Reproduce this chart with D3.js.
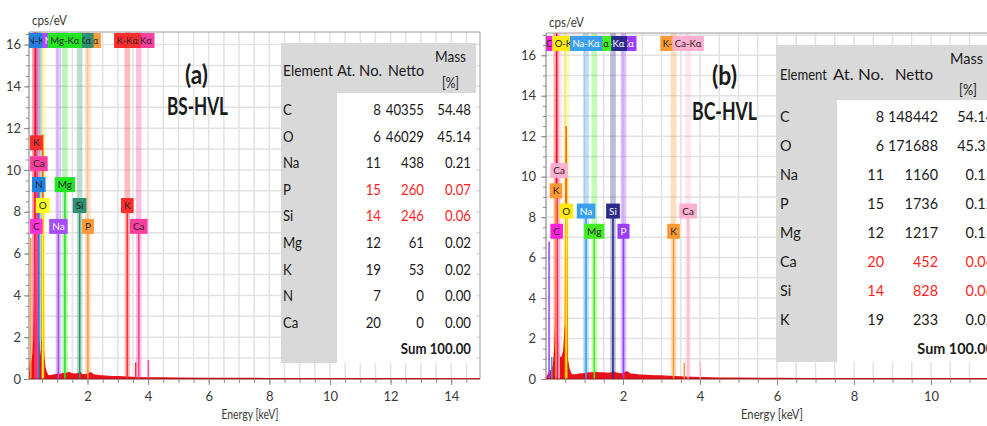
<!DOCTYPE html>
<html>
<head>
<meta charset="utf-8">
<script src="https://cdn.jsdelivr.net/npm/d3@7"></script>
<style>
  body { margin: 0; background: #fff; }
  svg { display: block; }
  text { font-family: Lato, "Open Sans", "Liberation Sans", sans-serif; }
</style>
</head>
<body>
<svg id="chart" width="987" height="426"></svg>
<script>
// ---------------- data ----------------
const yTickLabels  = [0, 2, 4, 6, 8, 10, 12, 14, 16];
const xTickLabelsA = [2, 4, 6, 8, 10, 12, 14];
const xTickLabelsB = [2, 4, 6, 8, 10];

// spectrum (a) BS-HVL : [energy keV, cps/eV]
const spectrumA = [[0.07,0],[0.10,0.4],[0.12,1.0],[0.14,0.5],[0.17,0.8],[0.20,1.2],[0.23,2.0],[0.25,4.0],[0.265,8.0],
  [0.277,17.5],[0.29,6.0],[0.31,2.2],[0.34,1.8],[0.37,1.6],[0.39,1.9],[0.41,1.4],[0.44,1.0],[0.47,1.1],[0.50,1.8],
  [0.53,2.0],[0.56,1.0],[0.60,0.5],[0.65,0.3],[0.70,0.18],[0.80,0.16],[0.90,0.2],[1.00,0.22],[1.10,0.22],[1.20,0.26],
  [1.30,0.28],[1.40,0.3],[1.50,0.25],[1.60,0.24],[1.70,0.26],[1.76,0.32],[1.80,0.22],[1.90,0.2],[2.00,0.24],[2.10,0.3],
  [2.20,0.2],[2.40,0.16],[2.60,0.14],[2.80,0.12],[3.00,0.11],[3.30,0.09],[3.60,0.07],[4.00,0.06],[4.50,0.05],[5.00,0.04],
  [6.00,0.035],[7.00,0.03],[8.00,0.025],[9.00,0.02],[10.0,0.02],[11.0,0.018],[12.0,0.016],[13.0,0.014],[14.0,0.012],[14.95,0.01]];
// oxygen K-alpha peak (a)
const oxygenPeakA = [[0.50,0.4],[0.525,11.7],[0.55,0.4]];

// spectrum (b) BC-HVL
const spectrumB = [[0,0],[0.05,0.2],[0.08,0.3],[0.12,0.4],[0.17,0.5],[0.20,0.8],[0.23,1.5],[0.25,3.0],[0.265,6.3],
  [0.277,18.5],[0.29,6.0],[0.31,2.0],[0.34,1.2],[0.38,1.0],[0.42,1.1],[0.46,1.4],[0.50,2.6],[0.53,2.0],[0.56,0.9],
  [0.60,0.5],[0.65,0.25],[0.70,0.2],[0.80,0.22],[0.90,0.25],[1.00,0.27],[1.10,0.3],[1.20,0.3],[1.30,0.32],[1.40,0.3],
  [1.50,0.3],[1.60,0.28],[1.70,0.3],[1.76,0.36],[1.80,0.3],[1.90,0.27],[2.00,0.26],[2.10,0.36],[2.20,0.24],[2.40,0.2],
  [2.60,0.18],[2.80,0.16],[3.00,0.15],[3.30,0.12],[3.60,0.1],[4.00,0.07],[4.50,0.05],[5.00,0.04],[6.00,0.03],[7.00,0.025],
  [8.00,0.02],[9.00,0.02],[10.0,0.018],[11.0,0.016],[12.0,0.014]];
const oxygenPeakB = [[0.50,0.4],[0.525,12.5],[0.55,0.4]];

// element K-alpha lines (drawing order) and L lines
const kLinesAElement = ["C", "O", "N", "Na", "P", "Si", "Mg", "Ca", "K"];
const kLinesAEnergy  = [0.277, 0.525, 0.392, 1.041, 2.013, 1.740, 1.254, 3.691, 3.313];
const lLinesAElement = ["K", "Ca"];
const lLinesAEnergy  = [0.26, 0.34];
const minorLinesAElement = ["P", "K", "Ca"];
const minorLinesAEnergy  = [0.13, 3.59, 4.01];
const minorLinesAHeight  = [6.75, 0.8, 0.9];

const kLinesBElement = ["C", "O", "P", "Si", "Mg", "Na", "K", "Ca"];
const kLinesBEnergy  = [0.277, 0.525, 2.013, 1.740, 1.254, 1.041, 3.313, 3.691];
const lLinesBElement = ["K", "Ca"];
const lLinesBEnergy  = [0.26, 0.34];
const minorLinesBElement = ["P", "Na", "K", "Ca"];
const minorLinesBEnergy  = [0.08, 0.15, 3.59, 4.01];
const minorLinesBHeight  = [6.8, 1.1, 0.8, 0.85];

// quantification tables
const tableAElement = ["C", "O", "Na", "P", "Si", "Mg", "K", "N", "Ca"];
const tableAAtNo    = [8, 6, 11, 15, 14, 12, 19, 7, 20];
const tableANetto   = [40355, 46029, 438, 260, 246, 61, 53, 0, 0];
const tableAMass    = [54.48, 45.14, 0.21, 0.07, 0.06, 0.02, 0.02, 0.00, 0.00];
const tableAFlagged = ["P", "Si"];
const tableASum     = 100.00;

const tableBElement = ["C", "O", "Na", "P", "Mg", "Ca", "Si", "K"];
const tableBAtNo    = [8, 6, 11, 15, 12, 20, 14, 19];
const tableBNetto   = [148442, 171688, 1160, 1736, 1217, 452, 828, 233];
const tableBMass    = [54.14, 45.35, 0.15, 0.12, 0.11, 0.06, 0.06, 0.02];
const tableBFlagged = ["Ca", "Si"];
const tableBSum     = 100.00;

// ---------------- styles / layout ----------------
const colorsA = { C: "#ff33d6", N: "#1f80e0", O: "#ffff26", Na: "#a64dff", Mg: "#22e622",
                  Si: "#2e9172", P: "#ff9a3c", K: "#ff2e2e", Ca: "#ff3fa0" };
const colorsB = { C: "#ff22dd", O: "#ffea10", Na: "#3a9ff0", Mg: "#44ee22",
                  Si: "#2b2b8c", P: "#9b3cff", K: "#ff9933", Ca: "#ffb0d0" };
const lightTextA = ["Na"];
const lightTextB = ["Si", "P", "Na"];
const tiersA  = { C: 0, N: 2, O: 1, Na: 0, Mg: 2, Si: 1, P: 0, K: 1, Ca: 0 };
const lTiersA = { K: 4, Ca: 3 };
const tiersB  = { C: 0, O: 1, Na: 1, Mg: 0, Si: 1, P: 0, K: 0, Ca: 1 };
const lTiersB = { K: 2, Ca: 3 };

const svg = d3.select("#chart");
const defs = svg.append("defs");

function addText(g, x, y, s, o) {
  const t = g.append("text")
    .attr("font-size", o.size)
    .attr("text-anchor", o.anchor || "start")
    .attr("fill", o.color || "#1a1a1a")
    .attr("font-weight", o.weight || 400)
    .text(s);
  if (o.len) {
    t.attr("x", x).attr("y", y).attr("textLength", o.len).attr("lengthAdjust", "spacingAndGlyphs");
  } else if (o.sx) {
    t.attr("transform", `translate(${x},${y}) scale(${o.sx},1)`);
  } else {
    t.attr("x", x).attr("y", y);
  }
  return t;
}

function drawPanel(cfg) {
  const g = svg.append("g");
  const x = d3.scaleLinear().domain(cfg.xDomain).range([cfg.left, cfg.right]);
  const y = d3.scaleLinear().domain([0, cfg.yMax]).range([cfg.bottom, cfg.top]);
  const clipId = "clip-" + cfg.id;
  defs.append("clipPath").attr("id", clipId).append("rect")
    .attr("x", cfg.left).attr("y", cfg.top)
    .attr("width", cfg.right - cfg.left).attr("height", cfg.bottom - cfg.top);

  const plot = g.append("g").attr("clip-path", `url(#${clipId})`);
  plot.append("rect").attr("x", cfg.left).attr("y", cfg.top)
    .attr("width", cfg.right - cfg.left).attr("height", cfg.bottom - cfg.top).attr("fill", "#fff");

  // grid
  plot.append("g").selectAll("line").data(d3.range(0.5, cfg.xDomain[1], 0.5)).join("line")
    .attr("x1", d => x(d)).attr("x2", d => x(d)).attr("y1", cfg.top).attr("y2", cfg.bottom)
    .attr("stroke", "#e2e2e2").attr("stroke-width", 1.5);
  plot.append("g").selectAll("line").data(d3.range(1, cfg.yMax, 1)).join("line")
    .attr("x1", cfg.left).attr("x2", cfg.right).attr("y1", d => y(d)).attr("y2", d => y(d))
    .attr("stroke", "#e2e2e2").attr("stroke-width", 1.5);

  const kLines = cfg.kElement.map((el, i) => ({ el, e: cfg.kEnergy[i], tier: cfg.tiers[el] }));
  const lLines = cfg.lElement.map((el, i) => ({ el, e: cfg.lEnergy[i], tier: cfg.lTiers[el] }));
  const allLines = kLines.concat(lLines);

  // translucent marker bands
  plot.append("g").selectAll("rect").data(allLines).join("rect")
    .attr("x", d => x(d.e) - 2.8).attr("width", 5.6)
    .attr("y", cfg.top).attr("height", cfg.bottom - cfg.top)
    .attr("fill", d => cfg.colors[d.el]).attr("opacity", 0.32);

  // spectrum
  const area = d3.area().x(d => x(d[0])).y0(y(0)).y1(d => y(d[1]));
  plot.append("path").datum(cfg.spectrum).attr("d", area)
    .attr("fill", "#e8101a").attr("stroke", "#e8101a").attr("stroke-width", 1.2);
  plot.append("path").datum(cfg.oxygenPeak).attr("d", area)
    .attr("fill", "#ff6a00").attr("stroke", "#ff6a00").attr("stroke-width", 1.6);

  // solid marker lines below each label
  const tierCenter = t => y(7.3 + t);
  plot.append("g").selectAll("line").data(allLines).join("line")
    .attr("x1", d => x(d.e)).attr("x2", d => x(d.e))
    .attr("y1", d => tierCenter(d.tier) + 7).attr("y2", y(0))
    .attr("stroke", d => cfg.colors[d.el]).attr("stroke-width", 1.6);
  const minor = cfg.minorElement.map((el, i) => ({ el, e: cfg.minorEnergy[i], h: cfg.minorHeight[i] }));
  plot.append("g").selectAll("line").data(minor).join("line")
    .attr("x1", d => x(d.e)).attr("x2", d => x(d.e))
    .attr("y1", d => y(d.h)).attr("y2", y(0))
    .attr("stroke", d => cfg.colors[d.el]).attr("stroke-width", 1.5);

  // top row of line labels
  kLines.forEach(d => {
    const lg = plot.append("g");
    const rect = lg.append("rect");
    const t = addText(lg, x(d.e), cfg.top + cfg.labelOffset + 11, d.el + "-K\u03b1",
      { size: 9.5, anchor: "middle", color: cfg.lightText.includes(d.el) ? "#fff" : "#222" });
    const w = t.node().getComputedTextLength() + 5;
    rect.attr("x", x(d.e) - w / 2).attr("y", cfg.top + cfg.labelOffset).attr("width", w).attr("height", 15)
      .attr("fill", cfg.colors[d.el]);
  });

  // element symbol labels at staggered heights
  allLines.forEach(d => {
    const lg = g.append("g");
    const rect = lg.append("rect");
    const t = lg.append("text").attr("font-size", 10).attr("text-anchor", "middle")
      .attr("fill", cfg.lightText.includes(d.el) ? "#fff" : "#222").text(d.el);
    const w = Math.max(11, t.node().getComputedTextLength() + 6);
    const cx = Math.max(cfg.left + 1 + w / 2, x(d.e));
    const cy = tierCenter(d.tier);
    t.attr("x", cx).attr("y", cy + 3.5);
    rect.attr("x", cx - w / 2).attr("y", cy - 7.5).attr("width", w).attr("height", 15)
      .attr("fill", cfg.colors[d.el]);
  });

  // frame and axes
  g.append("line").attr("x1", cfg.left).attr("x2", cfg.right).attr("y1", cfg.top).attr("y2", cfg.top)
    .attr("stroke", "#9a9a9a");
  g.append("line").attr("x1", cfg.right).attr("x2", cfg.right).attr("y1", cfg.top).attr("y2", cfg.bottom)
    .attr("stroke", "#9a9a9a");
  g.append("line").attr("x1", cfg.left).attr("x2", cfg.right).attr("y1", cfg.bottom).attr("y2", cfg.bottom)
    .attr("stroke", "#8a1a1a").attr("stroke-width", 1.2);
  g.append("line").attr("x1", cfg.left).attr("x2", cfg.left).attr("y1", cfg.top).attr("y2", cfg.bottom)
    .attr("stroke", "#777");

  const yMinor = g.append("g").attr("transform", `translate(${cfg.left},0)`)
    .call(d3.axisLeft(y).tickValues(d3.range(0, cfg.yMax, 0.5)).tickSize(3).tickFormat(""));
  const yMajor = g.append("g").attr("transform", `translate(${cfg.left},0)`)
    .call(d3.axisLeft(y).tickValues(yTickLabels).tickSize(5).tickPadding(cfg.yPad));
  const xMinor = g.append("g").attr("transform", `translate(0,${cfg.bottom})`)
    .call(d3.axisBottom(x).tickValues(d3.range(0.5, cfg.xDomain[1], 0.5)).tickSize(4).tickFormat(""));
  const xMajor = g.append("g").attr("transform", `translate(0,${cfg.bottom})`)
    .call(d3.axisBottom(x).tickValues(cfg.xTicks).tickSize(6).tickPadding(7));
  [yMinor, yMajor, xMinor, xMajor].forEach(a => {
    a.select(".domain").remove();
    a.selectAll(".tick line").attr("stroke", "#8c8c8c");
    a.selectAll(".tick text").attr("font-size", 13).attr("fill", "#3a3a3a")
      .attr("font-family", "Lato, 'Open Sans', sans-serif");
  });

  addText(g, cfg.left + 3, cfg.cpsY, "cps/eV", { size: 12.5, color: "#3a3a3a", len: 35 });
  addText(g, cfg.energyX - cfg.energyLen / 2, 419, "Energy [keV]",
    { size: 12.5, color: "#3a3a3a", len: cfg.energyLen });

  return g;
}

function drawTable(t) {
  const g = svg.append("g");
  g.append("rect").attr("x", t.x0).attr("y", t.y0).attr("width", t.x1 - t.x0)
    .attr("height", t.bottom - t.y0).attr("fill", "#fff");
  g.append("rect").attr("x", t.x0).attr("y", t.y0).attr("width", t.x1 - t.x0)
    .attr("height", t.headBottom - t.y0).attr("fill", "#d9d9d9");
  g.append("rect").attr("x", t.x0).attr("y", t.headBottom).attr("width", t.col1Right - t.x0)
    .attr("height", t.bottom - t.headBottom).attr("fill", "#d9d9d9");

  const h = t.header;
  addText(g, h.element[0], h.rowY, "Element", { size: t.size, len: h.element[1] });
  addText(g, h.atNo[0], h.rowY, "At. No.", { size: t.size, len: h.atNo[1] });
  addText(g, h.netto[0], h.rowY, "Netto", { size: t.size, len: h.netto[1] });
  addText(g, h.mass[0], h.massY, "Mass", { size: t.size, len: h.mass[1] });
  addText(g, h.pct[0], h.pctY, "[%]", { size: t.size, len: h.pct[1] });

  t.elements.forEach((el, i) => {
    const yy = t.rowStart + i * t.rowStep + 5;
    const c = t.flagged.includes(el) ? "#ff1f1f" : "#1a1a1a";
    addText(g, t.colElem, yy, el, { size: t.size, sx: t.sx, color: "#1a1a1a" });
    addText(g, t.colAt, yy, String(t.atNo[i]), { size: t.size, sx: t.sx, anchor: "end", color: c });
    addText(g, t.colNet, yy, String(t.netto[i]), { size: t.size, sx: t.sx, anchor: "end", color: c });
    addText(g, t.colMass, yy, t.mass[i].toFixed(2), { size: t.size, sx: t.sx, anchor: "end", color: c });
  });
  addText(g, t.colMass, t.rowStart + t.elements.length * t.rowStep + 5, "Sum " + t.sum.toFixed(2),
    { size: t.size, sx: t.sx, anchor: "end", weight: 700 });
}

// ---------------- panel (a) ----------------
drawPanel({
  id: "a", left: 29, right: 480, top: 32, bottom: 379, xDomain: [0.07, 14.95], yMax: 16.6,
  xTicks: xTickLabelsA, yPad: 3, labelOffset: 1, cpsY: 25, energyX: 250, energyLen: 57,
  spectrum: spectrumA, oxygenPeak: oxygenPeakA,
  kElement: kLinesAElement, kEnergy: kLinesAEnergy, lElement: lLinesAElement, lEnergy: lLinesAEnergy,
  minorElement: minorLinesAElement, minorEnergy: minorLinesAEnergy, minorHeight: minorLinesAHeight,
  colors: colorsA, lightText: lightTextA, tiers: tiersA, lTiers: lTiersA
});
drawTable({
  x0: 281, x1: 476, y0: 43, headBottom: 93, col1Right: 337, bottom: 363,
  size: 15, sx: 0.88, colElem: 283, colAt: 381, colNet: 424, colMass: 471,
  rowStart: 110, rowStep: 26.6,
  header: { rowY: 76, massY: 62, pctY: 88, element: [283, 50], atNo: [337, 45], netto: [388, 36],
            mass: [435, 31], pct: [442, 17] },
  elements: tableAElement, atNo: tableAAtNo, netto: tableANetto, mass: tableAMass,
  flagged: tableAFlagged, sum: tableASum
});
const titles = svg.append("g");
addText(titles, 185, 84, "(a)", { size: 26, weight: 700, len: 23 });
addText(titles, 167, 115, "BS-HVL", { size: 25, weight: 700, len: 61 });

// ---------------- panel (b) ----------------
drawPanel({
  id: "b", left: 546, right: 1008, top: 33, bottom: 379, xDomain: [0, 12], yMax: 17.1,
  xTicks: xTickLabelsB, yPad: 5, labelOffset: 3, cpsY: 27, energyX: 772, energyLen: 62,
  spectrum: spectrumB, oxygenPeak: oxygenPeakB,
  kElement: kLinesBElement, kEnergy: kLinesBEnergy, lElement: lLinesBElement, lEnergy: lLinesBEnergy,
  minorElement: minorLinesBElement, minorEnergy: minorLinesBEnergy, minorHeight: minorLinesBHeight,
  colors: colorsB, lightText: lightTextB, tiers: tiersB, lTiers: lTiersB
});
drawTable({
  x0: 776, x1: 1010, y0: 45, headBottom: 100, col1Right: 837, bottom: 362,
  size: 16, sx: 0.9, colElem: 780, colAt: 884, colNet: 938, colMass: 994,
  rowStart: 117, rowStep: 29,
  header: { rowY: 80, massY: 64, pctY: 95, element: [780, 47], atNo: [833, 51], netto: [895, 38],
            mass: [950, 33], pct: [959, 18] },
  elements: tableBElement, atNo: tableBAtNo, netto: tableBNetto, mass: tableBMass,
  flagged: tableBFlagged, sum: tableBSum
});
addText(titles, 712, 85, "(b)", { size: 26, weight: 700, len: 25 });
addText(titles, 692, 120, "BC-HVL", { size: 25, weight: 700, len: 65 });
svg.node().appendChild(titles.node());
</script>
</body>
</html>
